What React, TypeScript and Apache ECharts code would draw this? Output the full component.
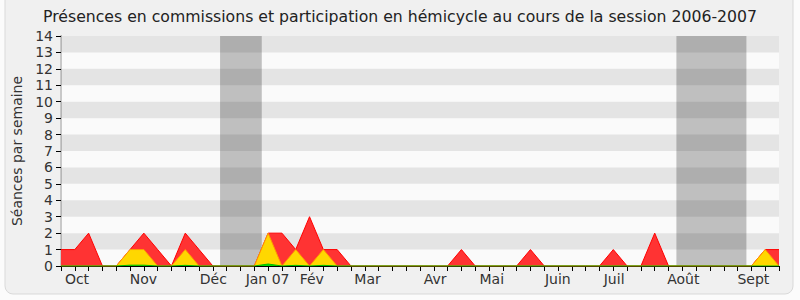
import React, { useEffect, useRef } from "react";
import * as echarts from "echarts";

// weekly values, week 0 = first week of October 2006 ... week 52 = September 2007
const totalSessions = [1, 1, 2, 0, 0, 1, 2, 1, 0, 2, 1, 0, 0, 0, 0, 2, 2, 1, 3, 1, 1, 0, 0, 0, 0, 0, 0, 0, 0, 1, 0, 0, 0, 0, 1, 0, 0, 0, 0, 0, 1, 0, 0, 2, 0, 0, 0, 0, 0, 0, 0, 1, 1];
const hemicycleSessions = [0, 0, 0, 0, 0, 1, 1, 0, 0, 1, 0, 0, 0, 0, 0, 2, 0, 1, 0, 1, 0, 0, 0, 0, 0, 0, 0, 0, 0, 0, 0, 0, 0, 0, 0, 0, 0, 0, 0, 0, 0, 0, 0, 0, 0, 0, 0, 0, 0, 0, 0, 1, 0];
const otherSessions = [0, 0, 0, 0, 0, 0.05, 0.05, 0, 0, 0.04, 0, 0, 0, 0, 0, 0.12, 0, 0.04, 0, 0.04, 0, 0, 0, 0, 0, 0, 0, 0, 0, 0, 0, 0, 0, 0, 0, 0, 0, 0, 0, 0, 0, 0, 0, 0, 0, 0, 0, 0, 0, 0, 0, 0, 0];
const monthLabels = ["Oct", "Nov", "Déc", "Jan 07", "Fév", "Mar", "Avr", "Mai", "Juin", "Juil", "Août", "Sept"];
const monthPositions = [1.16, 5.97, 11.03, 14.96, 18.16, 22.2, 27.1, 31.2, 35.98, 40.06, 45.07, 50.14];
const recessPeriods = [[11.52, 14.54], [44.57, 49.64]];
const weekCount = totalSessions.length;

const FONT = "DejaVu Sans";

export default function App() {
  const ref = useRef<HTMLDivElement>(null);
  useEffect(() => {
    document.body.style.margin = "0";
    document.body.style.background = "#fbfbfb";
    const chart = echarts.init(ref.current!, null, { renderer: "svg" });
    const weeks = totalSessions.map((_, i) => i);
    const toPairs = (arr: number[]) => arr.map((v, i) => [i, v]);
    const stripes: any[] = [];
    for (let y = 1; y < 14; y += 2) stripes.push([{ yAxis: y }, { yAxis: y + 1 }]);
    chart.setOption({
      animation: false,
      backgroundColor: "transparent",
      graphic: [
        {
          type: "rect",
          z: -10,
          silent: true,
          shape: { x: 5, y: -10, width: 788, height: 304, r: 8 },
          style: { fill: "#f0f0f0", stroke: "#d9d9d9", lineWidth: 1 },
        },
      ],
      title: {
        text: "Présences en commissions et participation en hémicycle au cours de la session 2006-2007",
        left: "center",
        top: 3,
        textStyle: { fontFamily: FONT, fontSize: 15.7, fontWeight: "normal", color: "#222" },
      },
      grid: {
        left: 61,
        right: 21,
        top: 36,
        bottom: 34,
        show: true,
        backgroundColor: "#fafafa",
        borderWidth: 0,
        containLabel: false,
        outerBoundsMode: "none",
      },
      xAxis: [
        {
          type: "value",
          min: 0,
          max: weekCount - 1,
          interval: 1,
          position: "bottom",
          splitLine: { show: false },
          axisLine: { show: true, onZero: false, lineStyle: { color: "#000", width: 1 } },
          axisTick: { show: true, length: 5, lineStyle: { color: "#000" }, customValues: weeks },
          axisLabel: {
            customValues: monthPositions,
            formatter: (v: number) => {
              const idx = monthPositions.findIndex((p) => Math.abs(p - v) < 1e-6);
              return idx >= 0 ? monthLabels[idx] : "";
            },
            fontFamily: FONT,
            fontSize: 14,
            color: "#333",
            margin: 6,
          },
        },
        {
          type: "value",
          min: 0,
          max: weekCount - 1,
          interval: 1,
          position: "top",
          splitLine: { show: false },
          axisLine: { show: false },
          axisTick: { show: true, inside: true, length: 1.5, lineStyle: { color: "#000" }, customValues: weeks },
          axisLabel: { show: false },
        },
      ],
      yAxis: [
        {
          type: "value",
          min: 0,
          max: 14,
          interval: 1,
          name: "Séances par semaine",
          nameLocation: "middle",
          nameGap: 37,
          nameTextStyle: { fontFamily: FONT, fontSize: 14, color: "#333" },
          splitLine: { show: false },
          axisLine: { show: true, lineStyle: { color: "#000" } },
          axisTick: { show: true, length: 5, lineStyle: { color: "#000" } },
          axisLabel: { fontFamily: FONT, fontSize: 14, color: "#333", margin: 8 },
        },
        {
          type: "value",
          min: 0,
          max: 14,
          interval: 1,
          position: "right",
          splitLine: { show: false },
          axisLine: { show: true, lineStyle: { color: "#c8c8c8", width: 2 } },
          axisTick: { show: false },
          axisLabel: { show: false },
        },
      ],
      series: [
        {
          type: "line",
          z: 1,
          data: [],
          markArea: {
            silent: true,
            itemStyle: { color: "#bfbfbf" },
            data: recessPeriods.map(([a, b]) => [{ xAxis: a }, { xAxis: b }]),
          },
        },
        {
          type: "line",
          z: 1.5,
          data: [],
          markArea: {
            silent: true,
            itemStyle: { color: "rgba(0,0,0,0.085)" },
            data: stripes,
          },
        },
        {
          type: "line",
          z: 3,
          data: toPairs(totalSessions),
          symbol: "none",
          lineStyle: { color: "#ff0000", width: 1 },
          areaStyle: { color: "#ff3333", opacity: 1 },
        },
        {
          type: "line",
          z: 4,
          data: toPairs(hemicycleSessions),
          symbol: "none",
          lineStyle: { color: "#ff9900", width: 1 },
          areaStyle: { color: "#ffd700", opacity: 1 },
        },
        {
          type: "line",
          z: 5,
          data: toPairs(otherSessions),
          symbol: "none",
          lineStyle: { color: "#00bb00", width: 1 },
          areaStyle: { color: "#00dd00", opacity: 1 },
        },
      ],
    });
    return () => chart.dispose();
  }, []);
  return <div ref={ref} style={{ width: 800, height: 300, position: "absolute", left: 0, top: 0 }} />;
}
